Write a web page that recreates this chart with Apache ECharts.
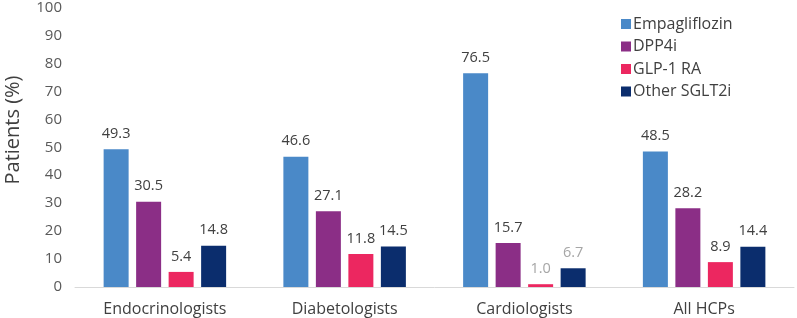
<!DOCTYPE html>
<html>
<head>
<meta charset="utf-8">
<script src="https://cdn.jsdelivr.net/npm/echarts@6/dist/echarts.min.js"></script>
<style>
  html, body { margin: 0; padding: 0; background: #fff; }
  #chart { width: 797px; height: 318px; }
</style>
</head>
<body>
<div id="chart"></div>
<script>
var categories = ['Endocrinologists', 'Diabetologists', 'Cardiologists', 'All HCPs'];
var seriesNames = ['Empagliflozin', 'DPP4i', 'GLP-1 RA', 'Other SGLT2i'];
var empagliflozin = [49.3, 46.6, 76.5, 48.5];
var dpp4i = [30.5, 27.1, 15.7, 28.2];
var glp1ra = [5.4, 11.8, 1.0, 8.9];
var otherSglt2i = [14.8, 14.5, 6.7, 14.4];
var yTicks = [0, 10, 20, 30, 40, 50, 60, 70, 80, 90, 100];

var colors = ['#4a89c8', '#8b2e86', '#ec2760', '#0b2d6d'];
var font = '"Open Sans", sans-serif';

// Cardiologists labels for the two smallest bars are greyed out in the original
function items(values, greyIdx) {
    return values.map(function (v, i) {
        var d = { value: v };
        if (greyIdx && greyIdx.indexOf(i) >= 0) {
            d.label = { color: '#a6a6a6' };
        }
        return d;
    });
}

var allData = [
    items(empagliflozin),
    items(dpp4i),
    items(glp1ra, [2]),
    items(otherSglt2i, [2])
];

var option = {
    animation: false,
    color: colors,
    grid: { left: 75, right: 3, top: 7, bottom: 31, containLabel: false },
    legend: {
        orient: 'vertical',
        left: 616,
        top: 11,
        itemWidth: 10,
        itemHeight: 10,
        itemGap: 6.5,
        icon: 'rect',
        textStyle: { fontFamily: font, fontSize: 16, lineHeight: 16, color: '#404040', padding: [0, 0, 0, -3] },
        data: seriesNames
    },
    graphic: [{
        type: 'text',
        x: 13,
        y: 130,
        rotation: Math.PI / 2,
        style: {
            text: 'Patients (%)',
            fontFamily: font,
            fontSize: 20,
            fill: '#404040',
            align: 'center',
            verticalAlign: 'middle'
        }
    }],
    xAxis: {
        type: 'category',
        data: categories,
        axisLine: { lineStyle: { color: '#d9d9d9', width: 1 } },
        axisTick: { show: false },
        axisLabel: { fontFamily: font, fontSize: 16, color: '#404040', margin: 14 }
    },
    yAxis: {
        type: 'value',
        min: 0,
        max: 100,
        interval: 10,
        axisLine: { show: false },
        axisTick: { show: false },
        splitLine: { show: false },
        axisLabel: {
            fontFamily: font, fontSize: 15, color: '#595959', margin: 13,
            formatter: function (v) { return yTicks.indexOf(v) >= 0 ? String(v) : ''; }
        }
    },
    series: seriesNames.map(function (name, i) {
        return {
            name: name,
            type: 'bar',
            data: allData[i],
            barWidth: 25,
            barGap: '30%',
            label: {
                show: true,
                position: 'top',
                distance: 8,
                fontFamily: font,
                fontSize: 14.5,
                color: '#404040',
                formatter: function (p) { return p.value.toFixed(1); }
            }
        };
    })
};

var myChart = echarts.init(document.getElementById('chart'));
myChart.setOption(option);
</script>
</body>
</html>
